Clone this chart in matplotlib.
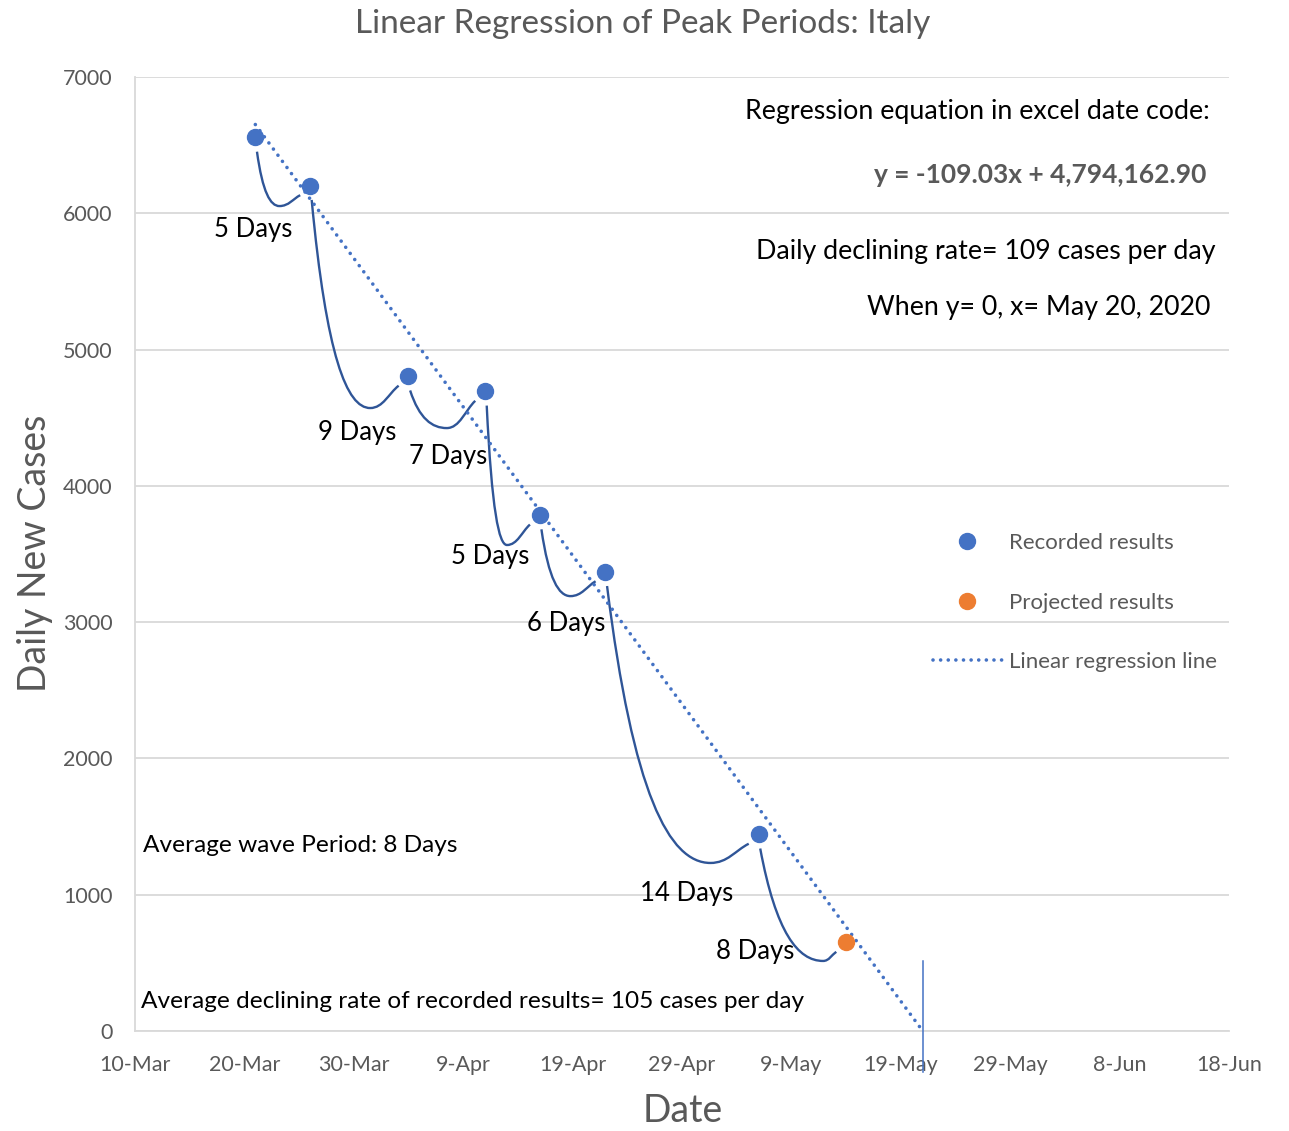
import numpy as np
import pandas as pd
import matplotlib
matplotlib.use('Agg')
import matplotlib.pyplot as plt
import matplotlib.dates as mdates
from matplotlib.path import Path
from matplotlib.patches import PathPatch

plt.rcParams['font.family'] = ['Lato', 'DejaVu Sans']

# Recorded peaks of daily new cases in Italy
peak_dates = ['2020-03-21', '2020-03-26', '2020-04-04', '2020-04-11',
              '2020-04-16', '2020-04-22', '2020-05-06']
peak_cases = [6557, 6203, 4805, 4694, 3786, 3370, 1444]

# Projected next peak
proj_dates = ['2020-05-14']
proj_cases = [651]

# Wave periods between consecutive peaks
gap_labels = ['5 Days', '9 Days', '7 Days', '5 Days', '6 Days', '14 Days', '8 Days']

# Troughs of the hand drawn connectors (days after 10-Mar, cases)
dip_days = [13.2, 21.5, 28.5, 34.0, 39.8, 52.6, 62.9]
dip_cases = [6053, 4571, 4424, 3566, 3191, 1233, 514]

# Where the period labels sit (days after 10-Mar, cases)
label_days = [10.8, 20.3, 28.6, 32.5, 39.4, 50.4, 56.7]
label_cases = [5884, 4395, 4219, 3485, 2993, 1012, 587]

x_start = '2020-03-10'
x_end = '2020-06-18'

BLUE = '#4472C4'
ORANGE = '#ED7D31'
CURVE = '#2F5597'
GRAY = '#595959'
GRID = '#D9D9D9'

W, H = 1289, 1131


def fpos(px, py):
    # pixel position -> figure fraction
    return px / W, 1 - py / H


fig = plt.figure(figsize=(W / 100, H / 100), dpi=100)
ax = fig.add_axes([135 / W, 1 - 1031 / H, 1094 / W, 954 / H])

base = mdates.date2num(pd.Timestamp(x_start))
px = mdates.date2num(pd.to_datetime(peak_dates))
pj = mdates.date2num(pd.to_datetime(proj_dates))

# Linear regression of the recorded peaks, run forward to y = 0
slope, icpt = np.polyfit(px, peak_cases, 1)
root = -icpt / slope
xr = np.array([px[0], root])
ax.plot(xr, slope * xr + icpt, color=BLUE, lw=2.6,
        linestyle=(0, (0.01, 2.1)), dash_capstyle='round', zorder=3,
        label='Linear regression line')

# connectors between peaks
nx = np.append(px, pj)
ny = np.append(peak_cases, proj_cases)
for i in range(len(gap_labels)):
    x0, y0 = nx[i] + 0.15, ny[i] - 105
    x1, y1 = nx[i + 1] - 0.9, ny[i + 1] - 70
    xm, ym = base + dip_days[i], dip_cases[i]
    verts = [(x0, y0),
             (x0 + 0.25 * (xm - x0), y0 + 0.75 * (ym - y0)),
             (xm - 0.4 * (xm - x0), ym),
             (xm, ym),
             (xm + 0.45 * (x1 - xm), ym),
             (x1 - 0.35 * (x1 - xm), y1 - 0.35 * (y1 - ym)),
             (x1, y1)]
    codes = [Path.MOVETO] + [Path.CURVE4] * 6
    ax.add_patch(PathPatch(Path(verts, codes), fill=False, ec=CURVE,
                           lw=1.7, zorder=2))
    ax.text(base + label_days[i], label_cases[i], gap_labels[i],
            ha='center', va='center', fontsize=18.5, color='black', zorder=5)

ax.plot(px, peak_cases, 'o', ms=11.5, color=BLUE, zorder=4,
        label='Recorded results')
ax.plot(pj, proj_cases, 'o', ms=11.5, color=ORANGE, zorder=4,
        label='Projected results')

# marker where the regression reaches zero
ax.plot([root, root], [-300, 510], color=BLUE, lw=1.1, clip_on=False, zorder=3)

ax.set_xlim(base, mdates.date2num(pd.Timestamp(x_end)))
ax.set_ylim(0, 7000)
ax.set_xticks(mdates.date2num(pd.date_range(x_start, x_end, freq='10D')))
ax.xaxis.set_major_formatter(mdates.DateFormatter('%-d-%b'))
ax.set_yticks(np.arange(0, 7001, 1000))
ax.tick_params(length=0, labelsize=15.5, labelcolor=GRAY)
ax.tick_params(axis='y', pad=16)
ax.tick_params(axis='x', pad=17)
ax.grid(axis='y', color=GRID, lw=1.3)
ax.set_axisbelow(True)
for s in ['top', 'right']:
    ax.spines[s].set_visible(False)
for s in ['left', 'bottom']:
    ax.spines[s].set_color(GRID)
    ax.spines[s].set_linewidth(1.3)

handles, labels = ax.get_legend_handles_labels()
order = [1, 2, 0]
ax.legend([handles[k] for k in order], [labels[k] for k in order],
          loc='upper left', bbox_to_anchor=fpos(933, 533),
          bbox_transform=fig.transFigure, frameon=False, fontsize=16,
          labelcolor=GRAY, handlelength=3.1, handletextpad=0.3,
          labelspacing=1.78, borderpad=0, borderaxespad=0)

fig.text(*fpos(643, 24), 'Linear Regression of Peak Periods: Italy',
         ha='center', va='center', fontsize=24, color=GRAY)
fig.text(*fpos(35, 553), 'Daily New Cases', rotation=90,
         ha='center', va='center', fontsize=27, color=GRAY)
fig.text(*fpos(683, 1111), 'Date', ha='center', va='center',
         fontsize=27, color=GRAY)

fig.text(*fpos(1210, 112), 'Regression equation in excel date code:',
         ha='right', va='center', fontsize=19.3, color='black')
fig.text(*fpos(1206, 175), 'y = -109.03x + 4,794,162.90',
         ha='right', va='center', fontsize=19, color=GRAY, fontweight='bold')
fig.text(*fpos(1216, 252), 'Daily declining rate= 109 cases per day',
         ha='right', va='center', fontsize=19.3, color='black')
fig.text(*fpos(1210, 308), 'When y= 0, x= May 20, 2020',
         ha='right', va='center', fontsize=19.3, color='black')
fig.text(*fpos(143, 845), 'Average wave Period: 8 Days',
         ha='left', va='center', fontsize=17.6, color='black')
fig.text(*fpos(141, 1002),
         'Average declining rate of recorded results= 105 cases per day',
         ha='left', va='center', fontsize=17.6, color='black')

fig.savefig('out.png', dpi=100)
